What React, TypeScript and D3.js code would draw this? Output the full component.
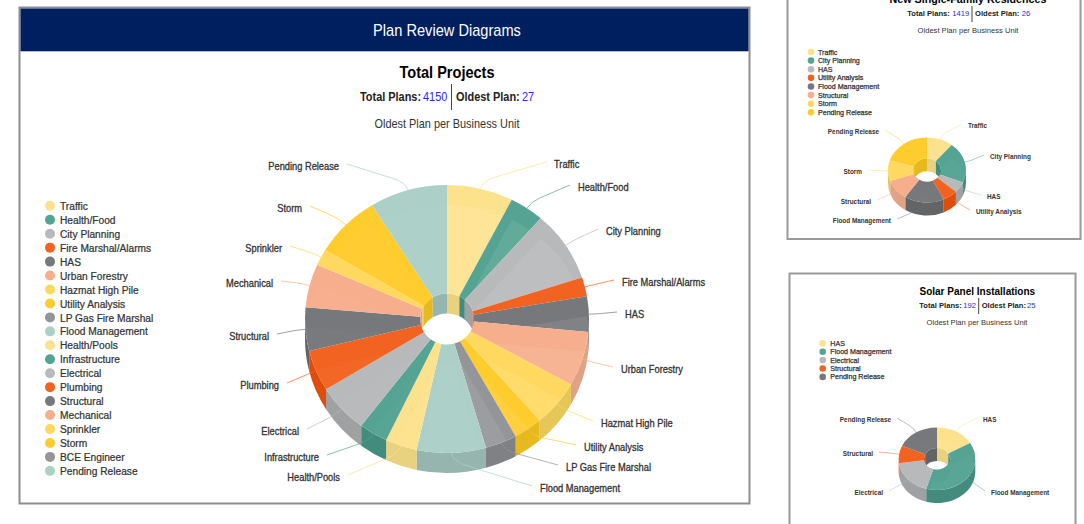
import React from "react";
import * as d3 from "d3";

const palette = ["#fde28e", "#55a493", "#b8b9bb", "#f26322", "#77787b", "#f7ae8d", "#ffd95f", "#ffcc2e", "#939598", "#acd0c8"];
const wallPalette = ["#e8d27f", "#438c7d", "#a0a1a3", "#df4d0b", "#636466", "#e0a184", "#e6c656", "#e6b91f", "#808184", "#95b5ae"];

const mainCategories = ["Traffic", "Health/Food", "City Planning", "Fire Marshal/Alarms", "HAS", "Urban Forestry", "Hazmat High Pile", "Utility Analysis", "LP Gas Fire Marshal", "Flood Management", "Health/Pools", "Infrastructure", "Electrical", "Plumbing", "Structural", "Mechanical", "Sprinkler", "Storm", "BCE Engineer", "Pending Release"];
const mainValues = [23, 12, 26, 7, 13, 20, 17, 10, 11, 24, 11, 10, 18, 15, 16, 16, 6, 23, 0, 27];

const familyCategories = ["Traffic", "City Planning", "HAS", "Utility Analysis", "Flood Management", "Structural", "Storm", "Pending Release"];
const familyValues = [14, 26, 7, 8, 21, 13, 13, 26];

const solarCategories = ["HAS", "Flood Management", "Electrical", "Structural", "Pending Release"];
const solarValues = [11, 25, 12, 6, 12];

// label layout: leader line end x, y
const mainLabelEnds: ([number, number] | null)[] = [[546, 162], [570, 185], [598, 229], [614, 280], [617, 312], [613, 367], [593, 421], [576, 445], [558, 465], [532, 486], [348, 475], [327, 455], [307, 429], [287, 383], [277, 334], [281, 281], [290, 246], [310, 206], null, [347, 164]];
const familyLabelEnds: [number, number][] = [[962, 124], [984, 155], [981, 195], [970, 210], [897, 219], [877, 200], [868, 170], [885, 130]];
const solarLabelEnds: [number, number][] = [[977, 418], [985, 491], [889, 491], [879, 452], [897, 418]];

const FONT = "'Liberation Sans', Arial, sans-serif";
const TEXT = "#333333";

type PieProps = {
  id: string; values: number[]; names: string[]; ends: ([number, number] | null)[];
  cx: number; cy: number; rx: number; ry: number; inner: number; depth: number;
  fontSize: number; bold?: boolean; gap: number; lineWidth: number; sx?: number; glow: number;
};

function Pie3D({ id, values, names, ends, cx, cy, rx, ry, inner, depth, fontSize, bold, gap, lineWidth, sx = 1, glow }: PieProps) {
  const k = ry / rx;
  const arcs = d3.pie<number>().sort(null).value((d) => d)(values);
  const face = d3.arc<d3.PieArcDatum<number>>().innerRadius(inner).outerRadius(rx);
  const pt = (a: number, r: number, dy = 0): [number, number] => [cx + r * Math.sin(a), cy - r * k * Math.cos(a) + dy];
  const band = (a0: number, a1: number, r: number) => {
    const [x0, y0] = pt(a0, r);
    const [x1, y1] = pt(a1, r);
    const [x2, y2] = pt(a1, r, depth);
    const [x3, y3] = pt(a0, r, depth);
    return `M${x0},${y0}A${r},${r * k} 0 0 1 ${x1},${y1}L${x2},${y2}A${r},${r * k} 0 0 0 ${x3},${y3}Z`;
  };
  const P = Math.PI;
  const walls = arcs.filter((a) => a.value > 0);
  return (
    <g>
      {walls.map((a, i) => {
        const ranges = [[Math.max(a.startAngle, 0), Math.min(a.endAngle, P / 2)], [Math.max(a.startAngle, 1.5 * P), Math.min(a.endAngle, 2 * P)]];
        return ranges.filter((r) => r[1] > r[0]).map((r, j) => (
          <path key={`in${i}-${j}`} d={band(r[0], r[1], inner)} fill={wallPalette[a.index % 10]} />
        ));
      })}
      {walls.map((a, i) => {
        const s = Math.max(a.startAngle, P / 2);
        const e = Math.min(a.endAngle, 1.5 * P);
        return e > s ? <path key={`out${i}`} d={band(s, e, rx)} fill={wallPalette[a.index % 10]} /> : null;
      })}
      {walls.map((a) => {
        const d = face(a) as string;
        const tf = `translate(${cx},${cy}) scale(1,${k})`;
        const cid = `${id}-clip-${a.index}`;
        const m = (a.startAngle + a.endAngle) / 2;
        return (
          <g key={`top${a.index}`}>
            <path d={d} transform={tf} fill={palette[a.index % 10]} />
            <clipPath id={cid}><path d={d} transform={tf} /></clipPath>
            <g clipPath={`url(#${cid})`}>
              <path d={d} transform={`translate(${cx},${cy + depth}) scale(1,${k})`} fill="#fff" opacity={m < 0.9 * P ? glow : glow * 0.25} />
            </g>
          </g>
        );
      })}
      {arcs.map((a) => {
        const end = ends[a.index];
        if (!end || a.value <= 0) return null;
        const m = (a.startAngle + a.endAngle) / 2;
        const [sx0, sy0] = pt(m, rx);
        const bend = fontSize * 0.8;
        const cxp = sx0 + Math.sin(m) * bend;
        const cyp = sy0 - Math.cos(m) * bend;
        const mx = cxp + (end[0] - cxp) * 0.22;
        const my = cyp + (end[1] - cyp) * 0.22;
        const right = Math.sin(m) >= 0;
        return (
          <g key={`lab${a.index}`}>
            <path d={`M${sx0},${sy0}Q${cxp},${cyp} ${mx},${my}L${end[0]},${end[1]}`} fill="none" stroke={palette[a.index % 10]} strokeOpacity={0.7} strokeWidth={lineWidth} />
            <text transform={`translate(${end[0] + (right ? gap : -gap)},${end[1] + fontSize * 0.6}) scale(${sx},1)`} textAnchor={right ? "start" : "end"} fontFamily={FONT} fontSize={fontSize} fontWeight={bold ? 700 : 400} fill={TEXT} stroke={bold ? "none" : TEXT} strokeWidth={bold ? 0 : 0.3}>
              {names[a.index]}
            </text>
          </g>
        );
      })}
    </g>
  );
}

function Legend({ names, cx, y0, step, r, tx, fontSize, sx = 1 }: { names: string[]; cx: number; y0: number; step: number; r: number; tx: number; fontSize: number; sx?: number }) {
  const y = d3.scaleLinear().domain([0, 1]).range([y0, y0 + step]);
  return (
    <g>
      {names.map((n, i) => (
        <g key={n + i}>
          <circle cx={cx} cy={y(i)} r={r} fill={palette[i % 10]} />
          <text transform={`translate(${tx},${y(i) + fontSize * 0.36}) scale(${sx},1)`} fontFamily={FONT} fontSize={fontSize} fill={TEXT} stroke={TEXT} strokeWidth={0.25}>{n}</text>
        </g>
      ))}
    </g>
  );
}

function Header(p: { title: string; titleX: number; titleY: number; titleSize: number; rowY: number; rowSize: number; x1: number; v1x: number; total: string; sepX: number; sepY0: number; sepY1: number; x2: number; v2x: number; oldest: string; subX: number; subY: number; subSize: number; sx?: number }) {
  const row = { fontFamily: FONT, fontSize: p.rowSize } as const;
  const s = p.sx ?? 1;
  const at = (x: number, y: number) => `translate(${x},${y}) scale(${s},1)`;
  return (
    <g>
      <text transform={at(p.titleX, p.titleY)} textAnchor="middle" fontFamily={FONT} fontSize={p.titleSize} fontWeight={700} fill="#000">{p.title}</text>
      <text transform={at(p.x1, p.rowY)} {...row} fontWeight={700} fill="#222">Total Plans:</text>
      <text transform={at(p.v1x, p.rowY)} {...row} fill="#2a2aee">{p.total}</text>
      <line x1={p.sepX} x2={p.sepX} y1={p.sepY0} y2={p.sepY1} stroke="#444" strokeWidth={1} />
      <text transform={at(p.x2, p.rowY)} {...row} fontWeight={700} fill="#222">Oldest Plan:</text>
      <text transform={at(p.v2x, p.rowY)} {...row} fill="#2a2aee">{p.oldest}</text>
      <text transform={at(p.subX, p.subY)} textAnchor="middle" fontFamily={FONT} fontSize={p.subSize} fill={TEXT}>Oldest Plan per Business Unit</text>
    </g>
  );
}

export default function App() {
  return (
    <svg width={1084} height={524} style={{ position: "fixed", left: 0, top: 0, display: "block", background: "#fff" }}>
      <rect x={19.5} y={7.5} width={730} height={496} fill="#fff" stroke="#8e8e8e" strokeWidth={2} />
      <rect x={20.5} y={8.5} width={728} height={42.8} fill="#001f5f" />
      <text transform="translate(447,36) scale(0.914,1)" textAnchor="middle" fontFamily={FONT} fontSize={16} fill="#fff">Plan Review Diagrams</text>
      <Header sx={0.91} title="Total Projects" titleX={447} titleY={78} titleSize={16} rowY={101} rowSize={12} x1={360} v1x={423} total="4150" sepX={451.5} sepY0={84} sepY1={110} x2={456} v2x={522} oldest="27" subX={447} subY={127.5} subSize={12} />
      <Legend names={mainCategories} cx={50} y0={205.8} step={13.95} r={5} tx={60} fontSize={11.5} sx={0.887} />
      <Pie3D id="main" values={mainValues} names={mainCategories} ends={mainLabelEnds} cx={447} cy={319} rx={142} ry={134} inner={27} depth={20} fontSize={10} gap={8} lineWidth={1} sx={0.93} glow={0.08} />

      <rect x={787.5} y={-5} width={293} height={244} fill="#fff" stroke="#9a9a9a" strokeWidth={2} />
      <Header title="New Single-Family Residences" titleX={968} titleY={3} titleSize={10.7} rowY={16} rowSize={7.6} x1={907.3} v1x={952.3} total="1419" sepX={972} sepY0={6} sepY1={22} x2={975} v2x={1021.7} oldest="26" subX={968} subY={33} subSize={7.6} />
      <Legend names={familyCategories} cx={811} y0={52} step={8.62} r={3.3} tx={818} fontSize={7.1} />
      <Pie3D id="fam" values={familyValues} names={familyCategories} ends={familyLabelEnds} cx={927} cy={170} rx={39} ry={32.5} inner={14} depth={13} fontSize={6.4} bold gap={6} lineWidth={0.7} glow={0.03} />

      <rect x={789.5} y={273.5} width={286} height={260} fill="#fff" stroke="#9a9a9a" strokeWidth={2} />
      <Header title="Solar Panel Installations" titleX={977.3} titleY={294.5} titleSize={10} rowY={308} rowSize={7.6} x1={919.3} v1x={963.3} total="192" sepX={978.7} sepY0={298} sepY1={314} x2={981.7} v2x={1027} oldest="25" subX={977} subY={324.5} subSize={7.6} />
      <Legend names={solarCategories} cx={822.7} y0={343.3} step={8.4} r={3.3} tx={830.3} fontSize={7.1} />
      <Pie3D id="sol" values={solarValues} names={solarCategories} ends={solarLabelEnds} cx={937} cy={458.7} rx={38.3} ry={31.3} inner={13} depth={13} fontSize={6.4} bold gap={6} lineWidth={0.7} glow={0.03} />
    </svg>
  );
}
